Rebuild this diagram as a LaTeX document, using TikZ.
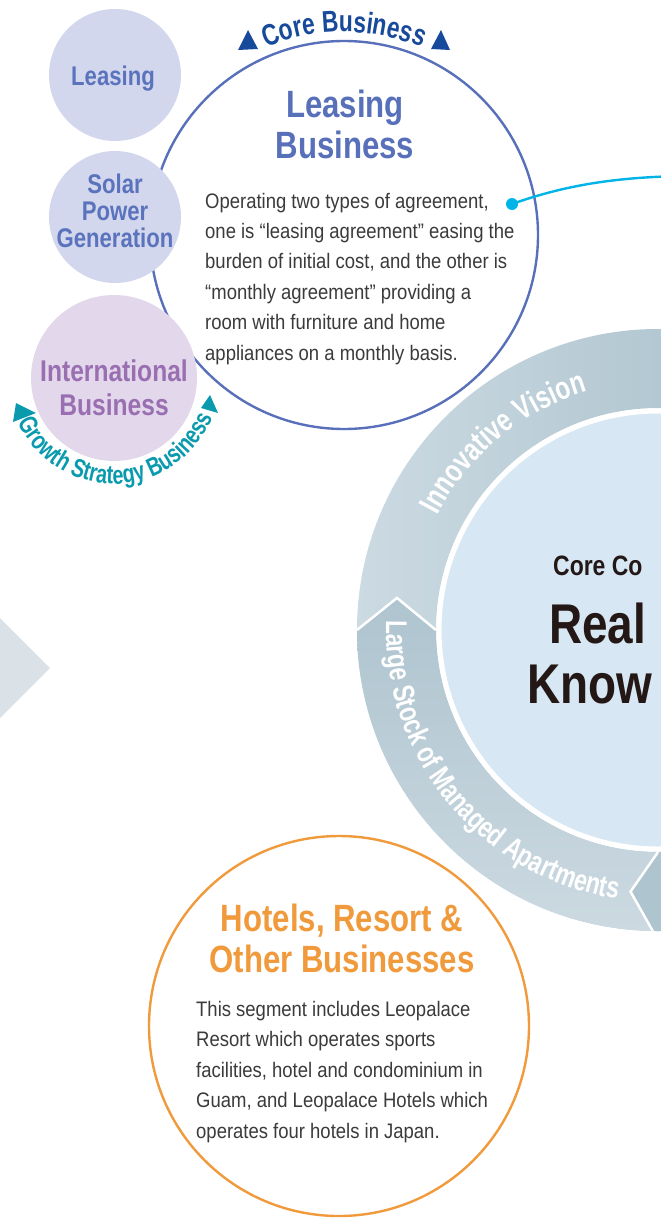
\documentclass[tikz,border=0pt]{standalone}
\usepackage{fontspec}
\setmainfont{Liberation Sans}
\newfontfamily\condfont[FakeStretch=0.82]{Liberation Sans}
\newfontfamily\narrowfont[FakeStretch=0.76]{Liberation Sans}
\newfontfamily\bodyfont[FakeStretch=0.88]{Liberation Sans}
\usepackage{xcolor}
\usepackage{tikz}
\usetikzlibrary{positioning,decorations.text}

\definecolor{bizblue}{HTML}{5870BA}
\definecolor{bubblefill}{HTML}{D3D7EE}
\definecolor{bubbletext}{HTML}{5A73BC}
\definecolor{intlfill}{HTML}{E2D7EB}
\definecolor{intltext}{HTML}{9A6FB1}
\definecolor{coreblue}{HTML}{174A9B}
\definecolor{growthteal}{HTML}{0A9AAE}
\definecolor{leadcyan}{HTML}{00B4E8}
\definecolor{hotelorange}{HTML}{F09A3B}
\definecolor{bodygray}{HTML}{3C3A3A}
\definecolor{corefill}{HTML}{D7E7F3}
\definecolor{ringlight}{HTML}{CCDAE2}
\definecolor{ringdark}{HTML}{9AB6C2}
\definecolor{segdark}{HTML}{AEC4CF}
\definecolor{seglight}{HTML}{CCD9E1}
\definecolor{arrowgrey}{HTML}{DAE2E8}
\definecolor{coretext}{HTML}{231815}

\newcommand{\fsize}[1]{\fontsize{#1}{#1}\selectfont}

\begin{document}
\begin{tikzpicture}[x=1pt, y=-1pt]
  \tikzstyle{every node}=[inner sep=0pt]
  \tikzstyle{bubble}=[circle, fill=bubblefill, minimum size=132pt]
  \tikzstyle{bubble text}=[anchor=base, align=center, text=bubbletext, font=\condfont\bfseries\fontsize{27}{27}\selectfont]
  \tikzstyle{segment circle}=[circle, fill=white, line width=2.4pt, minimum size=388pt]
  \tikzstyle{title}=[anchor=base, align=center, font=\condfont\bfseries\fontsize{38}{41}\selectfont]
  \tikzstyle{body}=[anchor=base west, align=left, text=bodygray, font=\bodyfont\fontsize{21}{30.4}\selectfont]
  \tikzstyle{core}=[anchor=base west, text=coretext, font=\condfont\bfseries\fsize{56}]
  \tikzstyle{arc text}=[decorate, decoration={text along path, text align=center}]
  \tikzstyle{divider}=[white, line width=2.5pt]

  \useasboundingbox (0,0) rectangle (661,1223);

  % grey arrow on the left edge
  \fill[arrowgrey] (-5,613) -- (50,668) -- (-5,723) -- cycle;

  % ring round the core
  \begin{scope}[shift={(658,630)}]
    \shade[left color=ringlight, right color=ringdark, even odd rule] (0,0) circle (301) (0,0) circle (222);
    \shade[top color=segdark, bottom color=seglight] (91:301) arc[start angle=91, end angle=180, radius=301]
      -- (187:263) -- (180:222) arc[start angle=180, end angle=90, radius=222] -- (96:263) -- cycle;
    \fill[segdark] (91:301) -- (96:263) -- (90:222) arc[start angle=90, end angle=40, radius=222]
      -- (40:301) arc[start angle=40, end angle=91, radius=301] -- cycle;
    \draw[divider] (180:301) -- (187:263) -- (180:222);
    \draw[divider] (91:301) -- (96:263) -- (90:222);

    \path[arc text, decoration={text={|\narrowfont\bfseries\fsize{32}|Innovative Vision}, text color=white}]
      (200.5:249) arc[start angle=200.5, end angle=260.5, radius=249];
    \path[arc text, decoration={text={|\narrowfont\bfseries\fsize{30}|Large Stock of Managed Apartments}, text color=white}]
      (190:272) arc[start angle=190, end angle=90.6, radius=272];
  \end{scope}

  \node[circle, fill=corefill, draw=white, line width=5pt, minimum size=438pt] (core) at (658,630) {};
  \node[core, font=\condfont\bfseries\fsize{28}] at (553,575) {Core Co};
  \node[core] (real) at (549,643) {Real};
  \node[core] at (527,703) {Know};

  % leasing business and its side bubbles
  \node[segment circle, draw=bizblue] (leasebiz) at (344,235) {};
  \node[bubble] (leasing) at (115,75) {};
  \node[bubble] (solar) at (115,217) {};
  \node[bubble, fill=intlfill, minimum size=166pt] (intl) at (114,378) {};

  \node[bubble text] at (113,85) {Leasing};
  \node[bubble text] at (115,247) {Solar\\Power\\Generation};
  \node[bubble text, text=intltext, font=\condfont\bfseries\fontsize{30}{34}\selectfont] at (114,415) {International\\Business};

  \node[title, text=bizblue] (leasetitle) at (345,158) {Leasing\\Business};
  \node[body] (leasebody) at (205,360) {Operating two types of agreement,\\
    one is “leasing agreement” easing the\\
    burden of initial cost, and the other is\\
    “monthly agreement” providing a\\
    room with furniture and home\\
    appliances on a monthly basis.};

  \path[arc text, decoration={text={|\narrowfont\bfseries\fsize{30}|Core Business}, text color=coreblue}]
    ([shift={(240:203)}]leasebiz.center) arc[start angle=240, end angle=300, radius=203];
  \fill[coreblue] (248,30) -- (238,50) -- (258,49) -- cycle;
  \fill[coreblue] (441,30) -- (431,49) -- (450,50) -- cycle;

  \path[arc text, decoration={text={|\narrowfont\bfseries\fsize{26}|Growth Strategy Business}, text color=growthteal}]
    ([shift={(163.5:106)}]intl.center) arc[start angle=163.5, end angle=13.5, radius=106];
  \fill[growthteal] (16,403) -- (36,413) -- (13,422) -- cycle;
  \fill[growthteal] (210,395) -- (218,413) -- (201,408) -- cycle;

  % lead line out of the leasing text
  \node[circle, fill=leadcyan, minimum size=12pt] (dot) at (512,204) {};
  \coordinate (lead) at (685,176);
  \draw[leadcyan, line width=2.4pt] (dot.center) .. controls (560,187) and (610,177) .. (lead);

  % hotels
  \node[segment circle, draw=hotelorange, minimum size=380pt] (hotels) at (339,1026) {};
  \node[title, text=hotelorange] (hoteltitle) at (342,972) {Hotels, Resort \&\\Other Businesses};
  \node[body] (hotelbody) at (196,1138) {This segment includes Leopalace\\
    Resort which operates sports\\
    facilities, hotel and condominium in\\
    Guam, and Leopalace Hotels which\\
    operates four hotels in Japan.};
\end{tikzpicture}
\end{document}
